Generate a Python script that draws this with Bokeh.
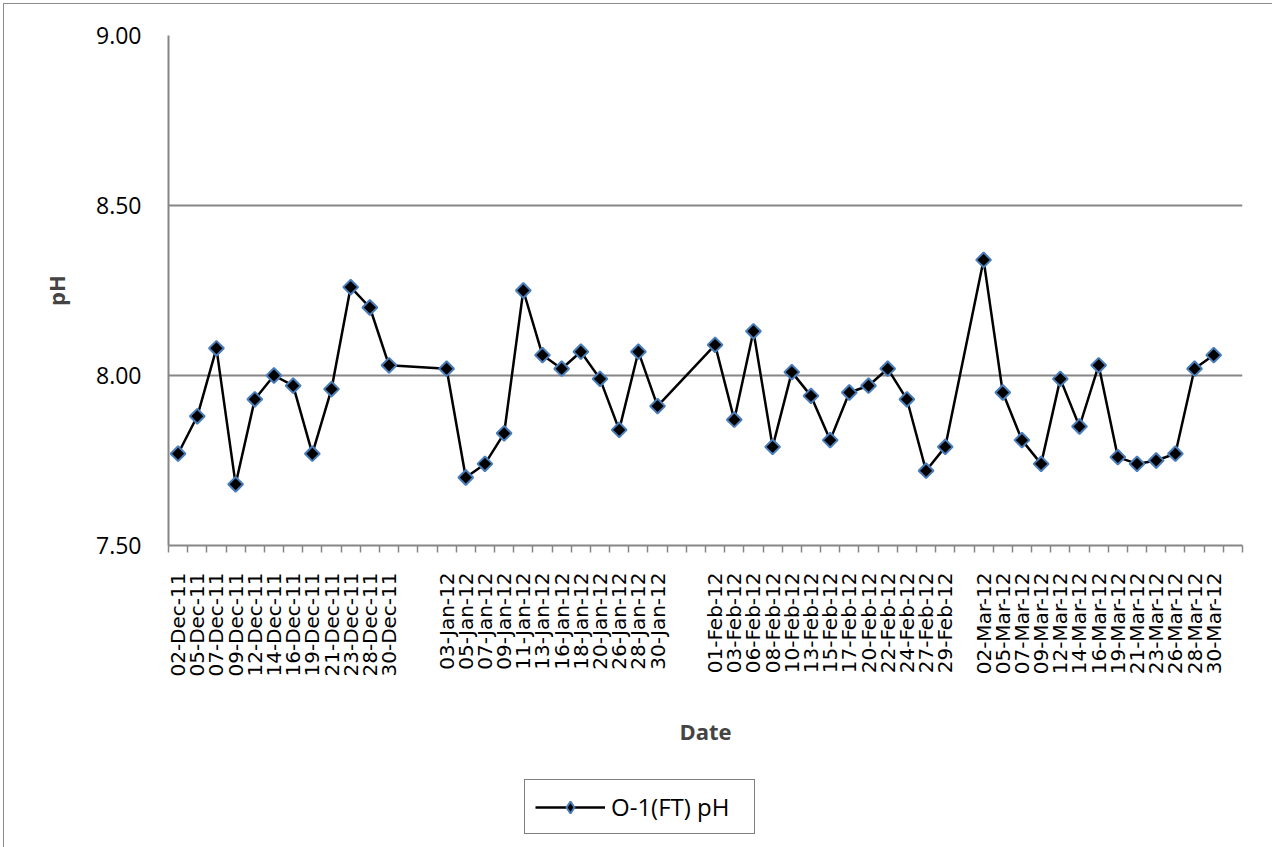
import math
from bokeh.plotting import figure
from bokeh.layouts import column
from bokeh.models import (FixedTicker, PrintfTickFormatter, Legend, LegendItem,
                          Range1d, ColumnDataSource)
from bokeh.embed import file_html
from bokeh.resources import INLINE

# ---- data -------------------------------------------------------------
categories = [
    "02-Dec-11", "05-Dec-11", "07-Dec-11", "09-Dec-11", "12-Dec-11", "14-Dec-11",
    "16-Dec-11", "19-Dec-11", "21-Dec-11", "23-Dec-11", "28-Dec-11", "30-Dec-11", "", "",
    "03-Jan-12", "05-Jan-12", "07-Jan-12", "09-Jan-12", "11-Jan-12", "13-Jan-12",
    "16-Jan-12", "18-Jan-12", "20-Jan-12", "26-Jan-12", "28-Jan-12", "30-Jan-12", "", "",
    "01-Feb-12", "03-Feb-12", "06-Feb-12", "08-Feb-12", "10-Feb-12", "13-Feb-12",
    "15-Feb-12", "17-Feb-12", "20-Feb-12", "22-Feb-12", "24-Feb-12", "27-Feb-12", "29-Feb-12", "",
    "02-Mar-12", "05-Mar-12", "07-Mar-12", "09-Mar-12", "12-Mar-12", "14-Mar-12",
    "16-Mar-12", "19-Mar-12", "21-Mar-12", "23-Mar-12", "26-Mar-12", "28-Mar-12", "30-Mar-12", "",
]
ph_values = [
    7.77, 7.88, 8.08, 7.68, 7.93, 8.00, 7.97, 7.77, 7.96, 8.26, 8.20, 8.03, None, None,
    8.02, 7.70, 7.74, 7.83, 8.25, 8.06, 8.02, 8.07, 7.99, 7.84, 8.07, 7.91, None, None,
    8.09, 7.87, 8.13, 7.79, 8.01, 7.94, 7.81, 7.95, 7.97, 8.02, 7.93, 7.72, 7.79, None,
    8.34, 7.95, 7.81, 7.74, 7.99, 7.85, 8.03, 7.76, 7.74, 7.75, 7.77, 8.02, 8.06, None,
]
y_ticks = [7.50, 8.00, 8.50, 9.00]
series_name = "O-1(FT) pH"

# ---- build -------------------------------------------------------------
xs = [i for i, v in enumerate(ph_values) if v is not None]
ys = [v for v in ph_values if v is not None]
src = ColumnDataSource(dict(x=xs, y=ys))

GRAY = "#868686"
BLUE = "#4A7EBB"
LINE_KW = dict(line_color="black", line_width=2.5)

n = len(categories)
p = figure(width=1272, height=770,
           x_range=Range1d(-0.5, n - 0.5), y_range=Range1d(y_ticks[0], y_ticks[-1]),
           output_backend="svg", toolbar_location=None,
           min_border_left=168, min_border_right=30, min_border_top=35, min_border_bottom=225)
p.outline_line_color = None
p.background_fill_color = "white"
p.border_fill_alpha = 0
p.styles = {"box-shadow": "inset 3px 3px 0 0 white, inset 4px 4px 0 0 #8c8c8c"}

# y axis
p.yaxis.ticker = FixedTicker(ticks=y_ticks)
p.yaxis.formatter = PrintfTickFormatter(format="%.2f")
p.yaxis.major_tick_out = 0
p.yaxis.major_tick_in = 0
p.yaxis.minor_tick_out = 0
p.yaxis.axis_line_color = GRAY
p.yaxis.axis_line_width = 2
p.yaxis.major_label_standoff = 27
p.yaxis.major_label_text_font = "Open Sans"
p.yaxis.major_label_text_font_size = "23px"
p.yaxis.major_label_text_color = "black"
p.yaxis.axis_label = "pH"
p.yaxis.axis_label_text_font = "Open Sans"
p.yaxis.axis_label_text_font_style = "bold"
p.yaxis.axis_label_text_font_size = "22px"
p.yaxis.axis_label_standoff = 22

p.ygrid.ticker = FixedTicker(ticks=y_ticks)
p.ygrid.grid_line_color = GRAY
p.ygrid.grid_line_width = 2
p.xgrid.grid_line_color = None

# x axis (category style)
label_ticks = [i for i, c in enumerate(categories) if c != ""]
p.xaxis.ticker = FixedTicker(ticks=label_ticks, minor_ticks=[i - 0.5 for i in range(n + 1)])
p.xaxis.major_label_overrides = {i: categories[i] for i in label_ticks}
p.xaxis.major_label_orientation = math.pi / 2
p.xaxis.major_tick_out = 0
p.xaxis.major_tick_in = 0
p.xaxis.minor_tick_out = 7
p.xaxis.minor_tick_in = 0
p.xaxis.minor_tick_line_color = GRAY
p.xaxis.minor_tick_line_width = 1.5
p.xaxis.axis_line_color = GRAY
p.xaxis.axis_line_width = 2
p.xaxis.major_label_standoff = 20
p.xaxis.major_label_text_font = "DejaVu Sans"
p.xaxis.major_label_text_font_size = "20px"
p.xaxis.major_label_text_color = "black"
p.xaxis.axis_label = "Date"
p.xaxis.axis_label_text_font = "Open Sans"
p.xaxis.axis_label_text_font_style = "bold"
p.xaxis.axis_label_text_font_size = "22px"
p.xaxis.axis_label_standoff = 36

# series
p.line("x", "y", source=src, **LINE_KW)
p.scatter("x", "y", source=src, marker="square", angle=math.pi / 4, size=10.5,
          fill_color="black", line_color=BLUE, line_width=2)

# legend strip (same series, drawn out of view so only the legend shows)
p2 = figure(width=1272, height=77, x_range=Range1d(1000, 1001), y_range=Range1d(1000, 1001),
            output_backend="svg", toolbar_location=None,
            x_axis_location=None, y_axis_location=None,
            min_border=0, min_border_left=0, min_border_right=0,
            min_border_top=0, min_border_bottom=0)
p2.grid.visible = False
p2.outline_line_color = None
p2.background_fill_alpha = 0
p2.border_fill_alpha = 0
p2.styles = {"box-shadow": "inset 3px 0 0 0 white, inset 4px 0 0 0 #8c8c8c"}
l2 = p2.line("x", "y", source=src, **LINE_KW)
s2 = p2.scatter("x", "y", source=src, marker="diamond", size=14,
                fill_color="black", line_color=BLUE, line_width=2)

legend = Legend(items=[LegendItem(label=series_name, renderers=[l2, s2])],
                location=(356, 13), orientation="vertical",
                border_line_color="black", border_line_width=1.5,
                background_fill_color="white", background_fill_alpha=1,
                padding=10, spacing=0, margin=0,
                glyph_width=70, glyph_height=30, label_standoff=6, label_width=133,
                label_text_font="Open Sans", label_text_font_size="24px",
                label_text_color="black")
p2.add_layout(legend)

layout = column(p, p2, spacing=0)
open("out.html", "w").write(file_html(layout, INLINE))
